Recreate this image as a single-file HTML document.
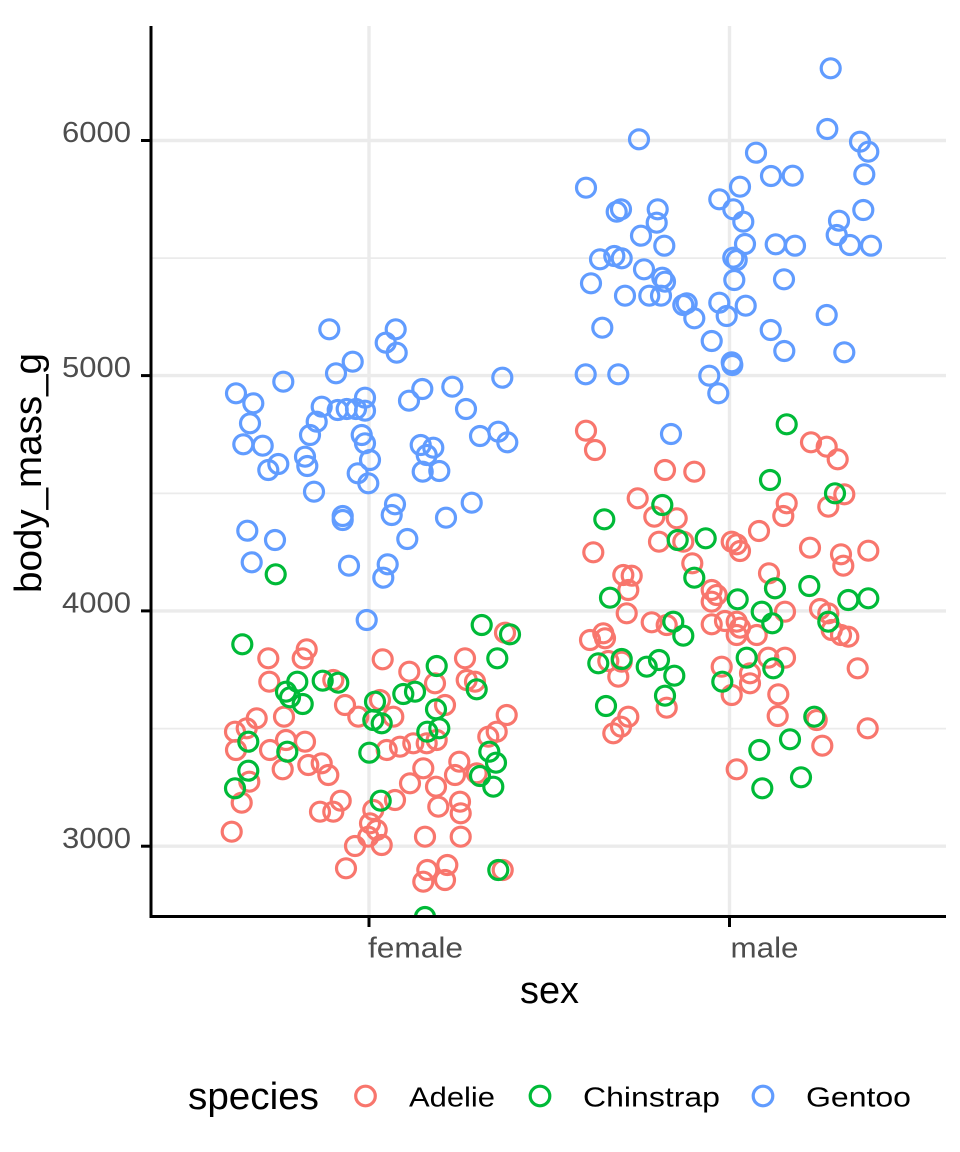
<!DOCTYPE html>
<html>
<head>
<meta charset="utf-8">
<style>
html,body{margin:0;padding:0;background:#fff;}
svg{display:block;}
text{font-family:"Liberation Sans",Arial,sans-serif;}
</style>
</head>
<body>
<svg width="960" height="1152" viewBox="0 0 960 1152" xmlns="http://www.w3.org/2000/svg">
<defs>
<clipPath id="panel"><rect x="151" y="26" width="795" height="890"/></clipPath>
</defs>
<rect width="960" height="1152" fill="#fff"/>
<g stroke="#EBEBEB" stroke-width="1.8">
<line x1="151" x2="946" y1="258.1" y2="258.1"/>
<line x1="151" x2="946" y1="493.4" y2="493.4"/>
<line x1="151" x2="946" y1="728.6" y2="728.6"/>
</g>
<g stroke="#EBEBEB" stroke-width="3.4">
<line x1="151" x2="946" y1="140.5" y2="140.5"/>
<line x1="151" x2="946" y1="375.6" y2="375.6"/>
<line x1="151" x2="946" y1="610.9" y2="610.9"/>
<line x1="151" x2="946" y1="846.2" y2="846.2"/>
<line x1="369" x2="369" y1="26" y2="916"/>
<line x1="729.5" x2="729.5" y1="26" y2="916"/>
</g>
<g clip-path="url(#panel)" fill="none" stroke-width="3.2">
<g stroke="#F8766D">
<circle cx="505" cy="632.7" r="9.5"/><circle cx="268.3" cy="658.3" r="9.5"/><circle cx="306.7" cy="649.3" r="9.5"/><circle cx="302.7" cy="658.3" r="9.5"/><circle cx="382.7" cy="659.3" r="9.5"/><circle cx="465" cy="658.3" r="9.5"/><circle cx="409.3" cy="671.7" r="9.5"/><circle cx="435" cy="683.3" r="9.5"/><circle cx="269.3" cy="681.7" r="9.5"/><circle cx="333.3" cy="680" r="9.5"/><circle cx="466.7" cy="680" r="9.5"/><circle cx="475" cy="681.7" r="9.5"/><circle cx="345" cy="705" r="9.5"/><circle cx="380" cy="700" r="9.5"/><circle cx="445" cy="705" r="9.5"/><circle cx="256.7" cy="718.3" r="9.5"/><circle cx="284" cy="716.7" r="9.5"/><circle cx="358.3" cy="716.7" r="9.5"/><circle cx="393.3" cy="716.7" r="9.5"/><circle cx="506.7" cy="715" r="9.5"/><circle cx="235" cy="731.7" r="9.5"/><circle cx="246.7" cy="728.3" r="9.5"/><circle cx="236" cy="750" r="9.5"/><circle cx="270" cy="750" r="9.5"/><circle cx="286" cy="740" r="9.5"/><circle cx="305" cy="741.7" r="9.5"/><circle cx="386.7" cy="750" r="9.5"/><circle cx="400" cy="746.7" r="9.5"/><circle cx="413.3" cy="743.3" r="9.5"/><circle cx="426.7" cy="743.3" r="9.5"/><circle cx="436.7" cy="740" r="9.5"/><circle cx="488.3" cy="736.7" r="9.5"/><circle cx="496.7" cy="731.7" r="9.5"/><circle cx="282.7" cy="769.3" r="9.5"/><circle cx="308.3" cy="765" r="9.5"/><circle cx="321.7" cy="763.3" r="9.5"/><circle cx="328.3" cy="775" r="9.5"/><circle cx="249.3" cy="781.7" r="9.5"/><circle cx="410" cy="783.3" r="9.5"/><circle cx="423.3" cy="768.3" r="9.5"/><circle cx="455" cy="775" r="9.5"/><circle cx="459.3" cy="761.7" r="9.5"/><circle cx="476.7" cy="773.3" r="9.5"/><circle cx="436" cy="786.7" r="9.5"/><circle cx="241.7" cy="802.7" r="9.5"/><circle cx="340.7" cy="800.7" r="9.5"/><circle cx="320" cy="811.7" r="9.5"/><circle cx="333.3" cy="811.7" r="9.5"/><circle cx="395" cy="800" r="9.5"/><circle cx="373.3" cy="810" r="9.5"/><circle cx="438.3" cy="806.7" r="9.5"/><circle cx="460" cy="801.7" r="9.5"/><circle cx="460.7" cy="813.3" r="9.5"/><circle cx="370" cy="823.3" r="9.5"/><circle cx="376.7" cy="830" r="9.5"/><circle cx="381.7" cy="845" r="9.5"/><circle cx="368.3" cy="836.7" r="9.5"/><circle cx="355" cy="846" r="9.5"/><circle cx="425" cy="836.7" r="9.5"/><circle cx="460.7" cy="836.7" r="9.5"/><circle cx="231.7" cy="831.7" r="9.5"/><circle cx="346" cy="868.3" r="9.5"/><circle cx="502.7" cy="870" r="9.5"/><circle cx="423.3" cy="881.7" r="9.5"/><circle cx="445" cy="880" r="9.5"/><circle cx="447.3" cy="865" r="9.5"/><circle cx="427.3" cy="870" r="9.5"/>
<circle cx="586" cy="430.7" r="9.5"/><circle cx="595" cy="450" r="9.5"/><circle cx="665" cy="470" r="9.5"/><circle cx="694.3" cy="471.7" r="9.5"/><circle cx="811" cy="442.3" r="9.5"/><circle cx="826.7" cy="446.7" r="9.5"/><circle cx="837.7" cy="459.3" r="9.5"/><circle cx="637.7" cy="498.3" r="9.5"/><circle cx="654.3" cy="516.7" r="9.5"/><circle cx="676.7" cy="518.3" r="9.5"/><circle cx="786.7" cy="503.3" r="9.5"/><circle cx="783.3" cy="516" r="9.5"/><circle cx="844.3" cy="494.3" r="9.5"/><circle cx="828.3" cy="506.7" r="9.5"/><circle cx="593.3" cy="552.3" r="9.5"/><circle cx="659" cy="541.7" r="9.5"/><circle cx="683.3" cy="541.7" r="9.5"/><circle cx="731.7" cy="541.7" r="9.5"/><circle cx="736.7" cy="544.3" r="9.5"/><circle cx="740" cy="551" r="9.5"/><circle cx="759" cy="531" r="9.5"/><circle cx="810" cy="547.7" r="9.5"/><circle cx="841" cy="554.3" r="9.5"/><circle cx="843.3" cy="565.7" r="9.5"/><circle cx="868.3" cy="550.7" r="9.5"/><circle cx="623.3" cy="575" r="9.5"/><circle cx="631.7" cy="575.7" r="9.5"/><circle cx="628.3" cy="590" r="9.5"/><circle cx="692.3" cy="563.3" r="9.5"/><circle cx="769" cy="573.3" r="9.5"/><circle cx="711.7" cy="590" r="9.5"/><circle cx="716.7" cy="595" r="9.5"/><circle cx="711.7" cy="601.7" r="9.5"/><circle cx="775" cy="588.3" r="9.5"/><circle cx="626.7" cy="613.3" r="9.5"/><circle cx="651.7" cy="622.3" r="9.5"/><circle cx="666.7" cy="625" r="9.5"/><circle cx="711.7" cy="624.3" r="9.5"/><circle cx="725" cy="621" r="9.5"/><circle cx="736.7" cy="621.7" r="9.5"/><circle cx="740" cy="627.7" r="9.5"/><circle cx="736.7" cy="635" r="9.5"/><circle cx="756.7" cy="635" r="9.5"/><circle cx="785" cy="611.7" r="9.5"/><circle cx="820" cy="609" r="9.5"/><circle cx="828.3" cy="613.3" r="9.5"/><circle cx="831.7" cy="630" r="9.5"/><circle cx="841" cy="635" r="9.5"/><circle cx="848.3" cy="636.7" r="9.5"/><circle cx="590" cy="640" r="9.5"/><circle cx="603.3" cy="633.3" r="9.5"/><circle cx="605" cy="638.3" r="9.5"/><circle cx="608.3" cy="661" r="9.5"/><circle cx="618.3" cy="676.7" r="9.5"/><circle cx="621.7" cy="661.7" r="9.5"/><circle cx="721.7" cy="666.7" r="9.5"/><circle cx="731.7" cy="695" r="9.5"/><circle cx="750" cy="673.3" r="9.5"/><circle cx="750" cy="683.3" r="9.5"/><circle cx="768.3" cy="657.7" r="9.5"/><circle cx="785" cy="657.7" r="9.5"/><circle cx="857.7" cy="668.3" r="9.5"/><circle cx="778.3" cy="694.3" r="9.5"/><circle cx="777.7" cy="716" r="9.5"/><circle cx="666.7" cy="707.7" r="9.5"/><circle cx="628.3" cy="716.7" r="9.5"/><circle cx="621" cy="726.7" r="9.5"/><circle cx="613.3" cy="733.3" r="9.5"/><circle cx="816.7" cy="720" r="9.5"/><circle cx="867.7" cy="728.3" r="9.5"/><circle cx="822.3" cy="745.7" r="9.5"/><circle cx="736.7" cy="769.3" r="9.5"/>
</g>
<g stroke="#619CFF">
<circle cx="329.3" cy="329.3" r="9.5"/><circle cx="395.7" cy="329.3" r="9.5"/><circle cx="385.7" cy="342.7" r="9.5"/><circle cx="396.7" cy="352.7" r="9.5"/><circle cx="352.7" cy="361.7" r="9.5"/><circle cx="336" cy="373.3" r="9.5"/><circle cx="283.3" cy="381.7" r="9.5"/><circle cx="502.3" cy="377.7" r="9.5"/><circle cx="236" cy="393.3" r="9.5"/><circle cx="253.3" cy="403.3" r="9.5"/><circle cx="452.3" cy="386.7" r="9.5"/><circle cx="422.3" cy="389" r="9.5"/><circle cx="409" cy="400.7" r="9.5"/><circle cx="466" cy="409" r="9.5"/><circle cx="365" cy="397.7" r="9.5"/><circle cx="321.7" cy="406.7" r="9.5"/><circle cx="337.7" cy="410" r="9.5"/><circle cx="346.7" cy="409" r="9.5"/><circle cx="356" cy="409" r="9.5"/><circle cx="365" cy="410.7" r="9.5"/><circle cx="316.7" cy="421.7" r="9.5"/><circle cx="250" cy="423.3" r="9.5"/><circle cx="310" cy="435" r="9.5"/><circle cx="361.7" cy="435" r="9.5"/><circle cx="365" cy="443.3" r="9.5"/><circle cx="480" cy="436" r="9.5"/><circle cx="498.3" cy="431.7" r="9.5"/><circle cx="507.3" cy="442.3" r="9.5"/><circle cx="243.3" cy="444.3" r="9.5"/><circle cx="262.7" cy="445.7" r="9.5"/><circle cx="420.7" cy="445" r="9.5"/><circle cx="433.3" cy="447.7" r="9.5"/><circle cx="426.7" cy="455" r="9.5"/><circle cx="305" cy="456.7" r="9.5"/><circle cx="307.3" cy="466" r="9.5"/><circle cx="370" cy="460" r="9.5"/><circle cx="278.3" cy="464" r="9.5"/><circle cx="268.3" cy="470" r="9.5"/><circle cx="357.7" cy="473.3" r="9.5"/><circle cx="422.7" cy="471.7" r="9.5"/><circle cx="439.3" cy="471" r="9.5"/><circle cx="368.3" cy="483.3" r="9.5"/><circle cx="314" cy="491.7" r="9.5"/><circle cx="395" cy="504.3" r="9.5"/><circle cx="471.7" cy="502.7" r="9.5"/><circle cx="342.7" cy="516" r="9.5"/><circle cx="342.7" cy="520" r="9.5"/><circle cx="391.7" cy="515" r="9.5"/><circle cx="446" cy="517.7" r="9.5"/><circle cx="247.3" cy="530.7" r="9.5"/><circle cx="275" cy="540" r="9.5"/><circle cx="407.3" cy="539" r="9.5"/><circle cx="251.7" cy="562.3" r="9.5"/><circle cx="349" cy="565.7" r="9.5"/><circle cx="387.7" cy="564.3" r="9.5"/><circle cx="383.3" cy="577.7" r="9.5"/><circle cx="366.7" cy="620" r="9.5"/>
<circle cx="830.7" cy="68.3" r="9.5"/><circle cx="639" cy="139.3" r="9.5"/><circle cx="827.3" cy="129" r="9.5"/><circle cx="860" cy="141.7" r="9.5"/><circle cx="868.3" cy="151.7" r="9.5"/><circle cx="756" cy="152.7" r="9.5"/><circle cx="864.3" cy="174.3" r="9.5"/><circle cx="771" cy="176" r="9.5"/><circle cx="792.7" cy="175.7" r="9.5"/><circle cx="586" cy="187.7" r="9.5"/><circle cx="740" cy="186.7" r="9.5"/><circle cx="719.3" cy="199.3" r="9.5"/><circle cx="733.3" cy="209.3" r="9.5"/><circle cx="743.3" cy="221.7" r="9.5"/><circle cx="616.7" cy="211.7" r="9.5"/><circle cx="621" cy="209.3" r="9.5"/><circle cx="657.7" cy="209.3" r="9.5"/><circle cx="656.7" cy="222.7" r="9.5"/><circle cx="863.3" cy="210" r="9.5"/><circle cx="839" cy="220.7" r="9.5"/><circle cx="836.7" cy="235" r="9.5"/><circle cx="850" cy="245" r="9.5"/><circle cx="871" cy="245.7" r="9.5"/><circle cx="641" cy="235.7" r="9.5"/><circle cx="664.3" cy="245.7" r="9.5"/><circle cx="745" cy="244" r="9.5"/><circle cx="775.7" cy="244.3" r="9.5"/><circle cx="795" cy="245.7" r="9.5"/><circle cx="600" cy="259.3" r="9.5"/><circle cx="614.3" cy="256" r="9.5"/><circle cx="621.7" cy="258.3" r="9.5"/><circle cx="733.3" cy="257.7" r="9.5"/><circle cx="736.7" cy="260" r="9.5"/><circle cx="644" cy="269.3" r="9.5"/><circle cx="662.3" cy="277.7" r="9.5"/><circle cx="665" cy="281.7" r="9.5"/><circle cx="591" cy="283.3" r="9.5"/><circle cx="734.3" cy="280" r="9.5"/><circle cx="784" cy="279.3" r="9.5"/><circle cx="625" cy="295.7" r="9.5"/><circle cx="649.3" cy="295.7" r="9.5"/><circle cx="661" cy="295.7" r="9.5"/><circle cx="683.3" cy="305" r="9.5"/><circle cx="686.7" cy="303.3" r="9.5"/><circle cx="694.3" cy="318.3" r="9.5"/><circle cx="719.3" cy="302.7" r="9.5"/><circle cx="726.7" cy="316" r="9.5"/><circle cx="745.7" cy="305.7" r="9.5"/><circle cx="602.3" cy="327.7" r="9.5"/><circle cx="770.7" cy="330" r="9.5"/><circle cx="826.7" cy="315" r="9.5"/><circle cx="711.7" cy="341" r="9.5"/><circle cx="784.3" cy="351" r="9.5"/><circle cx="844.3" cy="352.3" r="9.5"/><circle cx="731.7" cy="362.3" r="9.5"/><circle cx="732.3" cy="365" r="9.5"/><circle cx="585.7" cy="374.3" r="9.5"/><circle cx="618.3" cy="374.3" r="9.5"/><circle cx="709.3" cy="375.7" r="9.5"/><circle cx="718.3" cy="393.3" r="9.5"/><circle cx="671" cy="434" r="9.5"/>
</g>
<g stroke="#00BA38">
<circle cx="275.7" cy="574.3" r="9.5"/><circle cx="481.7" cy="625" r="9.5"/><circle cx="510" cy="634.3" r="9.5"/><circle cx="242.3" cy="644.3" r="9.5"/><circle cx="436.7" cy="666" r="9.5"/><circle cx="497.3" cy="658.3" r="9.5"/><circle cx="297.3" cy="681.7" r="9.5"/><circle cx="286" cy="691.7" r="9.5"/><circle cx="290" cy="697.3" r="9.5"/><circle cx="302.7" cy="704" r="9.5"/><circle cx="322.7" cy="680.7" r="9.5"/><circle cx="338.3" cy="682.7" r="9.5"/><circle cx="375" cy="701.7" r="9.5"/><circle cx="373.3" cy="720" r="9.5"/><circle cx="381.7" cy="723.3" r="9.5"/><circle cx="403.3" cy="694" r="9.5"/><circle cx="415" cy="691.7" r="9.5"/><circle cx="436" cy="709.3" r="9.5"/><circle cx="427.3" cy="731.7" r="9.5"/><circle cx="439.3" cy="728.3" r="9.5"/><circle cx="476.7" cy="689.3" r="9.5"/><circle cx="248.3" cy="741.7" r="9.5"/><circle cx="287.3" cy="751.7" r="9.5"/><circle cx="369.3" cy="752.7" r="9.5"/><circle cx="489.3" cy="751.7" r="9.5"/><circle cx="496" cy="762.7" r="9.5"/><circle cx="480" cy="776" r="9.5"/><circle cx="493.3" cy="786.7" r="9.5"/><circle cx="248.3" cy="770.7" r="9.5"/><circle cx="235" cy="788.3" r="9.5"/><circle cx="380.7" cy="800.7" r="9.5"/><circle cx="498.3" cy="870" r="9.5"/><circle cx="425" cy="917" r="9.5"/>
<circle cx="786.7" cy="424.3" r="9.5"/><circle cx="770" cy="480" r="9.5"/><circle cx="835" cy="493.3" r="9.5"/><circle cx="604.3" cy="519.3" r="9.5"/><circle cx="662.3" cy="505" r="9.5"/><circle cx="677.7" cy="540" r="9.5"/><circle cx="705.7" cy="538.3" r="9.5"/><circle cx="694.3" cy="577.7" r="9.5"/><circle cx="610" cy="597.7" r="9.5"/><circle cx="737.7" cy="599.3" r="9.5"/><circle cx="775" cy="588.3" r="9.5"/><circle cx="809.3" cy="586" r="9.5"/><circle cx="848.3" cy="600" r="9.5"/><circle cx="868.3" cy="598.3" r="9.5"/><circle cx="761.7" cy="611.7" r="9.5"/><circle cx="772.3" cy="623.3" r="9.5"/><circle cx="828.3" cy="621.7" r="9.5"/><circle cx="673.3" cy="621.7" r="9.5"/><circle cx="683.3" cy="635.7" r="9.5"/><circle cx="598.3" cy="663.3" r="9.5"/><circle cx="621.7" cy="659" r="9.5"/><circle cx="646.7" cy="666.7" r="9.5"/><circle cx="659" cy="660" r="9.5"/><circle cx="674.3" cy="675.7" r="9.5"/><circle cx="665" cy="695.7" r="9.5"/><circle cx="722.3" cy="681.7" r="9.5"/><circle cx="746.7" cy="657.7" r="9.5"/><circle cx="773.3" cy="668.3" r="9.5"/><circle cx="606" cy="706" r="9.5"/><circle cx="814.3" cy="716.7" r="9.5"/><circle cx="790" cy="739.3" r="9.5"/><circle cx="759.3" cy="750" r="9.5"/><circle cx="801" cy="777.3" r="9.5"/><circle cx="762.3" cy="788.3" r="9.5"/>
</g>
</g>
<g stroke="#000" stroke-width="3">
<line x1="151" x2="151" y1="26" y2="918"/>
<line x1="149.5" x2="946" y1="916.5" y2="916.5"/>
<line x1="141" x2="151" y1="140.5" y2="140.5"/>
<line x1="141" x2="151" y1="375.6" y2="375.6"/>
<line x1="141" x2="151" y1="610.9" y2="610.9"/>
<line x1="141" x2="151" y1="846.2" y2="846.2"/>
<line x1="369" x2="369" y1="916" y2="927"/>
<line x1="729.5" x2="729.5" y1="916" y2="927"/>
</g>
<g fill="#4D4D4D" font-size="29">
<text x="131" y="142" text-anchor="end" textLength="69" lengthAdjust="spacingAndGlyphs">6000</text>
<text x="131" y="377.2" text-anchor="end" textLength="69" lengthAdjust="spacingAndGlyphs">5000</text>
<text x="131" y="612.5" text-anchor="end" textLength="69" lengthAdjust="spacingAndGlyphs">4000</text>
<text x="131" y="847.8" text-anchor="end" textLength="69" lengthAdjust="spacingAndGlyphs">3000</text>
<text x="368" y="957.5" textLength="95" lengthAdjust="spacingAndGlyphs">female</text>
<text x="730.5" y="957.5" textLength="68" lengthAdjust="spacingAndGlyphs">male</text>
</g>
<g fill="#000">
<text x="520" y="1003" font-size="38" textLength="59" lengthAdjust="spacingAndGlyphs">sex</text>
<text transform="translate(41,473) rotate(-90)" x="0" y="0" text-anchor="middle" font-size="38" textLength="240" lengthAdjust="spacingAndGlyphs">body_mass_g</text>
<text x="188" y="1109" font-size="38" textLength="131" lengthAdjust="spacingAndGlyphs">species</text>
<text x="409" y="1106.5" font-size="28" textLength="86" lengthAdjust="spacingAndGlyphs">Adelie</text>
<text x="583" y="1106.5" font-size="28" textLength="137" lengthAdjust="spacingAndGlyphs">Chinstrap</text>
<text x="806" y="1106.5" font-size="28" textLength="105" lengthAdjust="spacingAndGlyphs">Gentoo</text>
</g>
<g fill="none" stroke-width="3.2">
<circle cx="365.5" cy="1096" r="9.8" stroke="#F8766D"/>
<circle cx="540" cy="1096" r="9.8" stroke="#00BA38"/>
<circle cx="763" cy="1096" r="9.8" stroke="#619CFF"/>
</g>
</svg>
</body>
</html>
